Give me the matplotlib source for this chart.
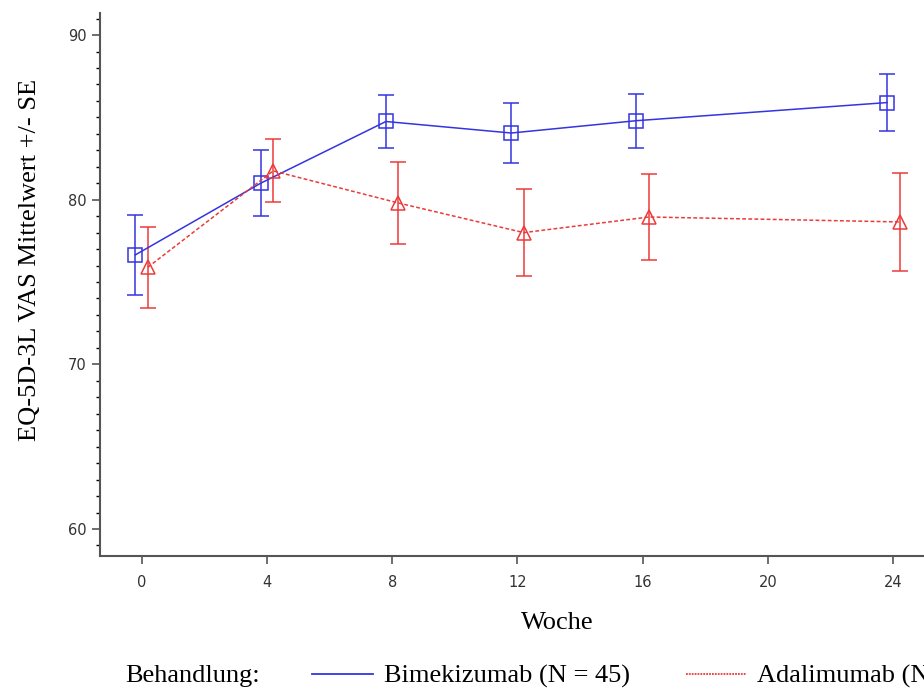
import numpy as np
import matplotlib.pyplot as plt
from matplotlib.lines import Line2D

# data
weeks = [0, 4, 8, 12, 16, 24]
bime_mean = [76.65, 81.0, 84.75, 84.05, 84.8, 85.9]
bime_se = [2.45, 2.0, 1.6, 1.8, 1.63, 1.73]
ada_mean = [75.9, 81.75, 79.8, 78.0, 78.95, 78.65]
ada_se = [2.47, 1.92, 2.5, 2.66, 2.6, 2.98]
xticks = [0, 4, 8, 12, 16, 20, 24]
yticks = [60, 70, 80, 90]

blue = '#3434e0'
red = '#ec3a3a'
gray = '#555555'
serif = 'Liberation Serif'
offset = 0.2  # side-by-side shift of the two groups

fig = plt.figure(figsize=(9.24, 6.88), dpi=100)
ax = fig.add_axes([0.1082, 0.1919, 0.8918, 0.7892])

w = np.array(weeks)
ax.errorbar(w - offset, bime_mean, yerr=bime_se, color=blue, lw=1.1, ls='-',
            marker='s', ms=10, mfc='none', mec=blue, mew=1.1,
            capsize=6, capthick=1.1, elinewidth=1.1, zorder=3)
ax.errorbar(w + offset, ada_mean, yerr=ada_se, color=red, lw=1.1, ls=(0, (2.5, 1.5)),
            marker='^', ms=10, mfc='none', mec=red, mew=1.1,
            capsize=6, capthick=1.1, elinewidth=1.1, zorder=3)

ax.set_xlim(-1.33, 24.98)
ax.set_ylim(58.36, 91.34)
ax.set_xticks(xticks)
ax.set_yticks(yticks)
ax.set_yticks(np.arange(59, 92, 1), minor=True)
ax.tick_params(axis='both', colors=gray, labelcolor='#333333', labelsize=10.5, width=1.2)
ax.tick_params(axis='y', which='major', length=6)
ax.tick_params(axis='y', which='minor', length=3, width=1)
ax.tick_params(axis='x', which='major', length=6, pad=8)
for s in ['top', 'right']:
    ax.spines[s].set_visible(False)
for s in ['left', 'bottom']:
    ax.spines[s].set_color(gray)
    ax.spines[s].set_linewidth(1.5)

ax.set_ylabel('EQ-5D-3L VAS Mittelwert +/- SE', family=serif, fontsize=19)
ax.yaxis.set_label_coords(-0.071, 0.545)
fig.text(0.603, 0.094, 'Woche', family=serif, fontsize=19, ha='center', va='center')

fig.text(0.135, 0.017, 'Behandlung:', family=serif, fontsize=19, ha='left', va='center')
handles = [Line2D([], [], color=blue, lw=1.3, ls='-'),
           Line2D([], [], color=red, lw=1.3, ls=(0, (1, 0.6)))]
fig.legend(handles, ['Bimekizumab (N = 45)', 'Adalimumab (N = 44)'],
           loc='center left', bbox_to_anchor=(0.338, 0.017), ncol=2, frameon=False,
           prop={'family': serif, 'size': 19}, handlelength=2.3, handletextpad=0.42,
           columnspacing=2.1, borderaxespad=0, borderpad=0)

fig.savefig('out.png', dpi=100)
